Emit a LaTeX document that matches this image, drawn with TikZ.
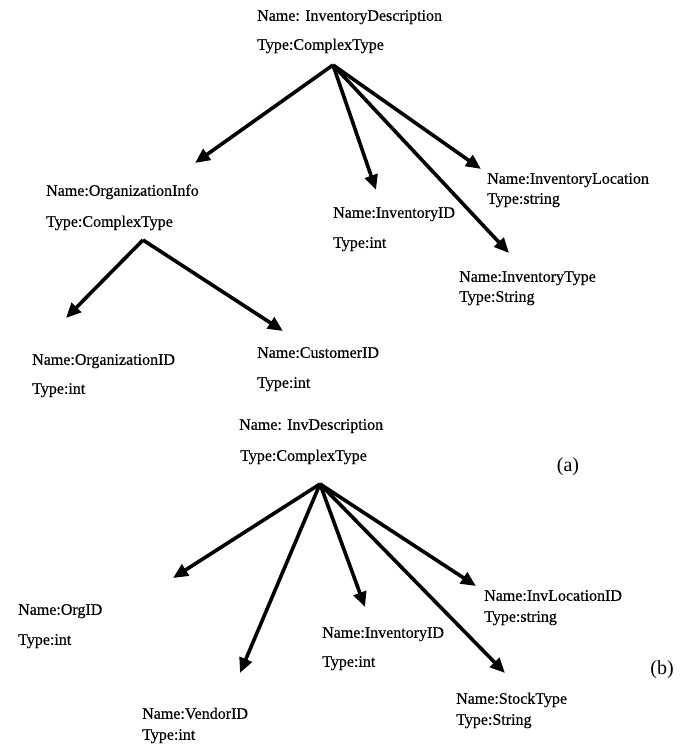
\documentclass[tikz,border=0pt]{standalone}
\usepackage{fontspec}
\setmainfont{Liberation Serif}
\newfontfamily\lblfont{Liberation Serif}[FakeBold=0.4]
\usetikzlibrary{arrows.meta}
\tikzset{
  lbl/.style={anchor=west, inner sep=0pt, font=\lblfont\fontsize{16}{18}\selectfont, text height=11pt, text depth=3.5pt},
  tag/.style={anchor=center, inner sep=0pt, font=\fontsize{20}{22}\selectfont},
  edge/.style={line width=3.6pt, -{Triangle[length=15pt,width=13pt]}}
}
\begin{document}
\begin{tikzpicture}[x=1pt,y=-1pt]
\useasboundingbox (0,0) rectangle (688,744);
% ---------- tree (a) ----------
\node[lbl] (rootN) at (257,17) {Name: InventoryDescription};
\node[lbl] (rootT) at (257,46) {Type:ComplexType};
\node[lbl] (orgN) at (46,192) {Name:OrganizationInfo};
\node[lbl] (orgT) at (46,223) {Type:ComplexType};
\node[lbl] (invN) at (333,214) {Name:InventoryID};
\node[lbl] (invT) at (333,244) {Type:int};
\node[lbl] (locN) at (487,180) {Name:InventoryLocation};
\node[lbl] (locT) at (487,200) {Type:string};
\node[lbl] (typN) at (459,278) {Name:InventoryType};
\node[lbl] (typT) at (459,298) {Type:String};
\node[lbl] (oidN) at (32,361) {Name:OrganizationID};
\node[lbl] (oidT) at (32,390) {Type:int};
\node[lbl] (cusN) at (257,354) {Name:CustomerID};
\node[lbl] (cusT) at (257,384) {Type:int};
\coordinate (a1) at (333,65);
\coordinate (t1) at (195,163);
\coordinate (t2) at (376,190);
\coordinate (t3) at (481,169);
\coordinate (t4) at (509,253);
\coordinate (a2) at (143,240);
\coordinate (t5) at (66,318);
\coordinate (t6) at (283,331);
\draw[edge] (a1) -- (t1);
\draw[edge] (a1) -- (t2);
\draw[edge] (a1) -- (t3);
\draw[edge] (a1) -- (t4);
\draw[edge] (a2) -- (t5);
\draw[edge] (a2) -- (t6);
% ---------- tree (b) ----------
\node[lbl] (brootN) at (239,426) {Name: InvDescription};
\node[lbl] (brootT) at (240,457) {Type:ComplexType};
\node[tag] (labA) at (568,467) {(a)};
\node[lbl] (borgN) at (18,611) {Name:OrgID};
\node[lbl] (borgT) at (18,641) {Type:int};
\node[lbl] (bvenN) at (142,715) {Name:VendorID};
\node[lbl] (bvenT) at (142,736) {Type:int};
\node[lbl] (binvN) at (322,634) {Name:InventoryID};
\node[lbl] (binvT) at (322,663) {Type:int};
\node[lbl] (blocN) at (484,597) {Name:InvLocationID};
\node[lbl] (blocT) at (484,618) {Type:string};
\node[lbl] (bstkN) at (456,700) {Name:StockType};
\node[lbl] (bstkT) at (456,721) {Type:String};
\node[tag] (labB) at (662,670) {(b)};
\coordinate (a3) at (320,484);
\coordinate (u1) at (173,578);
\coordinate (u2) at (240,673);
\coordinate (u3) at (365,607);
\coordinate (u4) at (476,586);
\coordinate (u5) at (505,673);
\draw[edge] (a3) -- (u1);
\draw[edge] (a3) -- (u2);
\draw[edge] (a3) -- (u3);
\draw[edge] (a3) -- (u4);
\draw[edge] (a3) -- (u5);
\end{tikzpicture}
\end{document}
